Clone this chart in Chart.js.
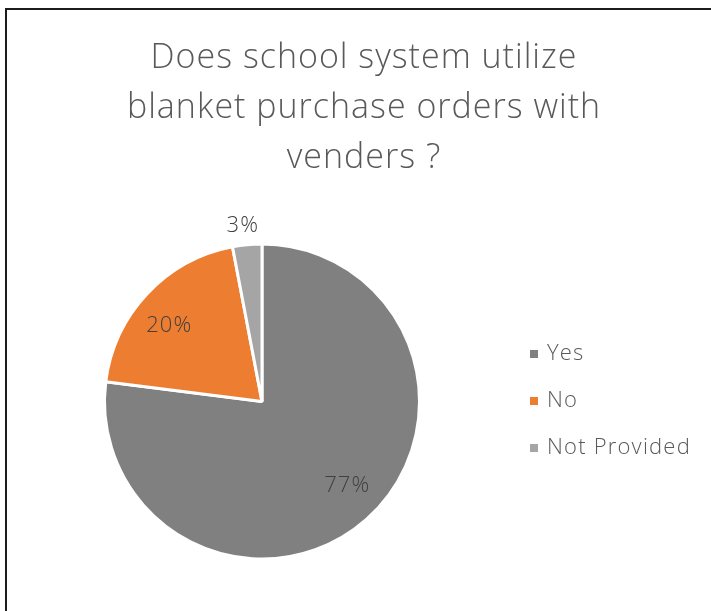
<!DOCTYPE html>
<html>
<head>
<meta charset="utf-8">
<script src="https://cdn.jsdelivr.net/npm/chart.js@4.4.1/dist/chart.umd.min.js"></script>
<style>
  html, body { margin: 0; padding: 0; background: #fff; overflow: hidden; }
  #wrap { position: relative; width: 711px; height: 611px; }
  #frame { position: absolute; left: 5px; top: 8px; width: 800px; height: 700px;
           border: 2px solid #1c1c1c; box-sizing: border-box; pointer-events: none; }
  canvas { position: absolute; left: 0; top: 0; }
</style>
</head>
<body>
<div id="wrap">
  <canvas id="pie" width="711" height="611"></canvas>
  <div id="frame"></div>
</div>
<script>
// Survey answers (percent of responding school systems)
const categories = ['Yes', 'No', 'Not Provided'];
const shares = [77, 20, 3];
const sliceColors = ['#808080', '#ED7D31', '#A5A5A5'];
const titleLines = ['Does school system utilize', 'blanket purchase orders with', 'venders ?'];

const FONT = '"Open Sans", "Noto Sans", sans-serif';

// Title, legend and percentage labels drawn on top of the pie
const decorations = {
  id: 'decorations',
  afterDatasetsDraw(chart) {
    const ctx = chart.ctx;
    ctx.save();

    // title
    ctx.fillStyle = '#595959';
    ctx.font = '300 34px ' + FONT;
    ctx.letterSpacing = '1px';
    ctx.textAlign = 'center';
    ctx.textBaseline = 'alphabetic';
    titleLines.forEach((t, i) => ctx.fillText(t, 364, 68 + i * 50));

    // percentage labels: large slices labelled inside, small ones just outside
    const meta = chart.getDatasetMeta(0);
    const total = shares.reduce((a, b) => a + b, 0);
    ctx.font = '300 22px ' + FONT;
    ctx.letterSpacing = '1px';
    ctx.fillStyle = '#404040';
    ctx.textBaseline = 'middle';
    meta.data.forEach((arc, i) => {
      const p = arc.getProps(['x', 'y', 'startAngle', 'endAngle', 'outerRadius']);
      const inside = shares[i] / total > 0.05;
      const mid = (p.startAngle + p.endAngle) / 2 - (inside ? 0.07 : 0.015);
      const r = p.outerRadius * (inside ? 0.76 : 1.12);
      ctx.fillText(Math.round(shares[i] / total * 100) + '%',
                   p.x + Math.cos(mid) * r, p.y + Math.sin(mid) * r);
    });

    // legend
    ctx.textAlign = 'left';
    ctx.font = '300 22px ' + FONT;
    ctx.letterSpacing = '1.2px';
    categories.forEach((c, i) => {
      const y = 354 + i * 47;
      ctx.fillStyle = sliceColors[i];
      ctx.fillRect(530, y - 4, 8, 8);
      ctx.fillStyle = '#595959';
      ctx.fillText(c, 547, y);
    });
    ctx.restore();
  }
};

new Chart(document.getElementById('pie'), {
  type: 'pie',
  data: {
    labels: categories,
    datasets: [{
      data: shares,
      backgroundColor: sliceColors,
      borderColor: '#ffffff',
      borderWidth: 3
    }]
  },
  options: {
    responsive: false,
    animation: false,
    layout: { padding: { left: 103, right: 290, top: 241, bottom: 49 } },
    plugins: {
      legend: { display: false },
      title: { display: false },
      tooltip: { enabled: false }
    }
  },
  plugins: [decorations]
});
</script>
</body>
</html>
